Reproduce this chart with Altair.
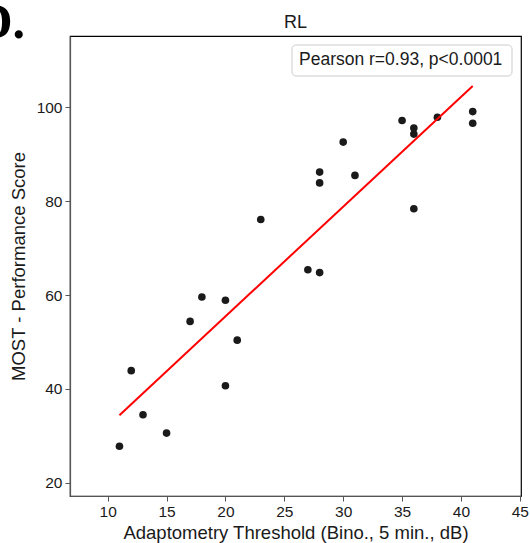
import altair as alt
import pandas as pd

# Adaptometry threshold (dB) vs MOST performance score, right-left eye group
threshold = [11, 12, 13, 15, 17, 18, 20, 20, 21, 23, 27, 28, 28, 28,
             30, 31, 35, 36, 36, 36, 38, 41, 41]
most_score = [27.8, 43.9, 34.5, 30.6, 54.4, 59.6, 58.9, 40.7, 50.4, 76.1,
              65.4, 64.8, 86.2, 83.9, 92.6, 85.5, 97.2, 95.6, 94.3, 78.4,
              97.9, 99.1, 96.6]

x_ticks = [10, 15, 20, 25, 30, 35, 40, 45]
y_ticks = [20, 40, 60, 80, 100]
panel_title = "RL"
stat_label = "Pearson r=0.93, p<0.0001"
panel_letter = "D."

FONT = "Liberation Sans"
INK = "#1a1a1a"

df = pd.DataFrame({"threshold": threshold, "score": most_score})

x_enc = alt.X(
    "threshold:Q",
    scale=alt.Scale(domain=[6.8, 45.1], nice=False, zero=False),
    axis=alt.Axis(values=x_ticks, title="Adaptometry Threshold (Bino., 5 min., dB)",
                  grid=False, tickSize=5, labelPadding=3, titlePadding=4),
)
y_enc = alt.Y(
    "score:Q",
    scale=alt.Scale(domain=[17.2, 115.2], nice=False, zero=False),
    axis=alt.Axis(values=y_ticks, title="MOST - Performance Score",
                  grid=False, tickSize=5, labelPadding=3, titlePadding=8),
)

points = alt.Chart(df).mark_circle(size=58, color=INK, opacity=1).encode(x=x_enc, y=y_enc)

fit = (
    alt.Chart(df)
    .transform_regression("threshold", "score", method="linear")
    .mark_line(color="#ff0000", strokeWidth=2)
    .encode(x="threshold:Q", y="score:Q")
)

box = alt.Chart(pd.DataFrame({"t": [stat_label]})).mark_rect(
    fill="white", stroke="#cccccc", strokeWidth=1, cornerRadius=4
).encode(x=alt.value(222), x2=alt.value(442), y=alt.value(9), y2=alt.value(40))

stat_text = alt.Chart(pd.DataFrame({"t": [stat_label]})).mark_text(
    align="left", baseline="alphabetic", fontSize=17.5, font=FONT, color=INK
).encode(text="t:N", x=alt.value(229), y=alt.value(29))

title_text = alt.Chart(pd.DataFrame({"t": [panel_title]})).mark_text(
    align="center", baseline="alphabetic", fontSize=18, font=FONT, color=INK
).encode(text="t:N", x=alt.value(225.5), y=alt.value(-8))

letter = alt.Chart(pd.DataFrame({"t": [panel_letter]})).mark_text(
    align="right", baseline="alphabetic", fontSize=50, font="Liberation Serif",
    fontWeight="bold", color="black"
).encode(text="t:N", x=alt.value(-45), y=alt.value(2))

chart = (
    alt.layer(points, fit, box, stat_text, title_text, letter)
    .properties(
        width=451,
        height=460,
        background="white",
        autosize=alt.AutoSizeParams(type="none"),
        padding={"left": 70, "top": 36, "right": 9, "bottom": 47},
    )
    .configure_view(stroke="black", strokeWidth=1.2)
    .configure_axis(
        labelFont=FONT, titleFont=FONT, labelFontSize=15.5, titleFontSize=18.5,
        labelColor=INK, titleColor=INK, titleFontWeight="normal",
        domainColor="#555555", tickColor="#555555", domainWidth=1.2,
    )
)

chart.save("out.html", embed_options={"renderer": "svg", "actions": False})
